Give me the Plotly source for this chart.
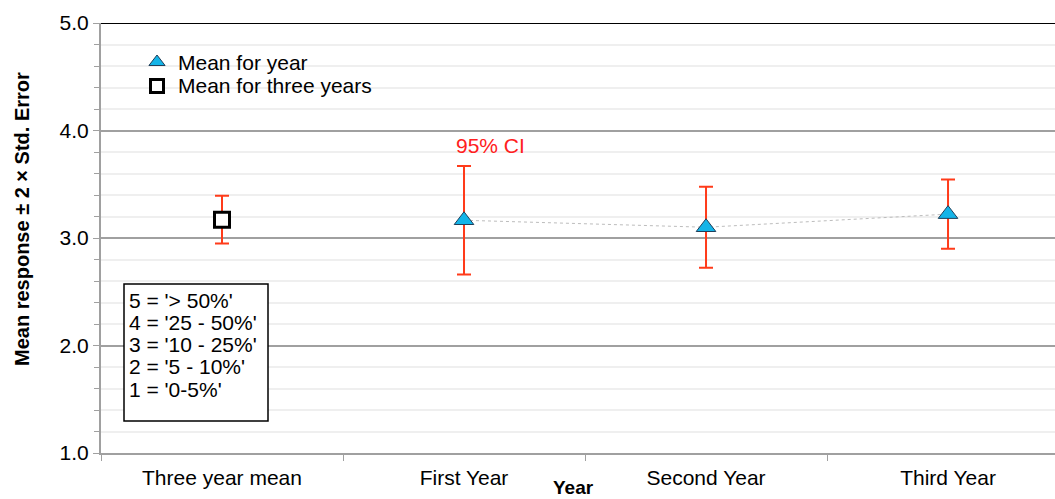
import plotly.graph_objects as go

categories = ["Three year mean", "First Year", "Second Year", "Third Year"]
overall_mean = [3.17]
overall_err = [0.222]
year_cats = ["First Year", "Second Year", "Third Year"]
year_means = [3.165, 3.10, 3.222]
year_errs = [0.505, 0.376, 0.322]
y_ticks = [1.0, 2.0, 3.0, 4.0, 5.0]
scale_lines = ["5 = '> 50%'", "4 = '25 - 50%'", "3 = '10 - 25%'", "2 = '5 - 10%'", "1 = '0-5%'"]
legend_labels = ["Mean for year", "Mean for three years"]
y_title = "Mean response ± 2 × Std. Error"
x_title = "Year"

FONT = "Liberation Sans, Arial, sans-serif"
ERR = "#ff3b1a"
FS = 21
PW = 954.0
PH = 430.0


def px_x(px):
    return (px - 101) / PW


def px_y(py):
    return (453 - py) / PH


fig = go.Figure()

fig.add_trace(go.Scatter(
    x=year_cats, y=year_means, mode="lines+markers", name=legend_labels[0],
    line=dict(color="#bdbdbd", width=1, dash="dot"),
    marker=dict(symbol="triangle-up", size=17, color="#14b4e8",
                line=dict(color="#1f3f5a", width=1)),
    error_y=dict(type="data", array=year_errs, color=ERR, thickness=2, width=7),
    showlegend=False,
))
fig.add_trace(go.Scatter(
    x=categories[:1], y=overall_mean, mode="markers", name=legend_labels[1],
    marker=dict(symbol="square", size=15, color="white",
                line=dict(color="black", width=3)),
    error_y=dict(type="data", array=overall_err, color=ERR, thickness=2, width=7),
    showlegend=False,
))

# legend symbols
fig.add_trace(go.Scatter(
    x=[px_x(157)], y=[px_y(62)], xaxis="x2", yaxis="y2", mode="markers",
    marker=dict(symbol="triangle-up", size=14, color="#14b4e8", line=dict(color="#1f3f5a", width=1)),
    showlegend=False, hoverinfo="skip"))
fig.add_trace(go.Scatter(
    x=[px_x(157)], y=[px_y(86)], xaxis="x2", yaxis="y2", mode="markers",
    marker=dict(symbol="square", size=13, color="white", line=dict(color="black", width=3)),
    showlegend=False, hoverinfo="skip"))

annotations = [
    dict(text=legend_labels[0], xref="paper", yref="paper", x=px_x(176), y=px_y(62),
         xanchor="left", yanchor="middle", showarrow=False, font=dict(size=FS)),
    dict(text=legend_labels[1], xref="paper", yref="paper", x=px_x(176), y=px_y(86),
         xanchor="left", yanchor="middle", showarrow=False, font=dict(size=FS)),
    dict(text="95% CI", xref="paper", yref="y", x=px_x(454), y=3.86, xanchor="left",
         yanchor="middle", showarrow=False, font=dict(size=FS, color="#ff2020")),
    dict(text=f"<b>{x_title}</b>", xref="paper", yref="paper", x=px_x(573), y=px_y(488),
         xanchor="center", yanchor="middle", showarrow=False, font=dict(size=19)),
    dict(text=f"<b>{y_title}</b>", xref="paper", yref="paper", x=px_x(22), y=px_y(219),
         xanchor="center", yanchor="middle", textangle=-90, showarrow=False, font=dict(size=20)),
]
for i, line in enumerate(scale_lines):
    annotations.append(dict(
        text=line, xref="paper", yref="paper", x=px_x(127), y=px_y(300 + i * 22.3),
        xanchor="left", yanchor="middle", showarrow=False, font=dict(size=FS)))

fig.update_layout(
    width=1055, height=499,
    margin=dict(l=101, r=0, t=23, b=46),
    paper_bgcolor="white", plot_bgcolor="white",
    font=dict(family=FONT, size=FS, color="black"),
    xaxis=dict(
        type="category", categoryorder="array", categoryarray=categories,
        range=[-0.5, 3.442], tickson="boundaries",
        ticks="outside", ticklen=6, tickcolor="#a0a0a0", tickwidth=1,
        showline=True, linecolor="#a0a0a0", linewidth=2,
        showgrid=False, zeroline=False,
        tickfont=dict(size=FS), ticklabelstandoff=5,
    ),
    yaxis=dict(
        range=[1.0, 5.0], tickvals=y_ticks, ticktext=[f"{v:.1f}" for v in y_ticks],
        ticks="outside", ticklen=6, tickcolor="#a0a0a0", tickwidth=1,
        showline=True, linecolor="#a0a0a0", linewidth=2,
        showgrid=True, gridcolor="#a0a0a0", gridwidth=1.5,
        zeroline=False,
        minor=dict(dtick=0.2, tick0=1.0, showgrid=True, gridcolor="#efefef",
                   ticks="outside", ticklen=5, tickcolor="#a0a0a0"),
        tickfont=dict(size=FS),
    ),
    xaxis2=dict(domain=[0, 1], range=[0, 1], visible=False, anchor="y2", overlaying="x"),
    yaxis2=dict(domain=[0, 1], range=[0, 1], visible=False, anchor="x2", overlaying="y"),
    shapes=[
        dict(type="line", xref="paper", yref="y", x0=0, x1=1, y0=5, y1=5,
             line=dict(color="black", width=2)),
        dict(type="rect", xref="paper", yref="paper",
             x0=px_x(124), x1=px_x(268), y0=px_y(421), y1=px_y(284),
             line=dict(color="black", width=1.5), fillcolor="white", layer="above"),
    ],
    annotations=annotations,
)

fig.write_html("out.html")
